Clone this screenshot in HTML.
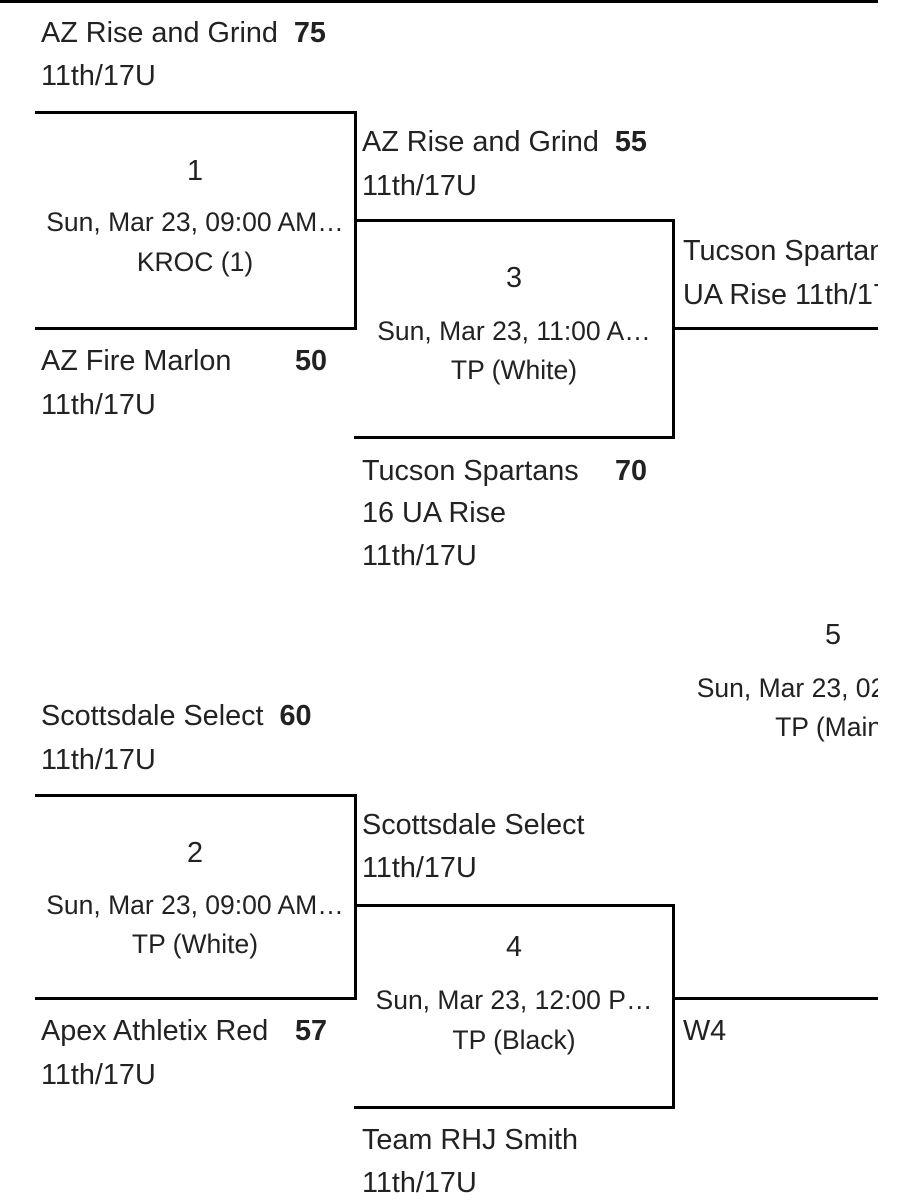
<!DOCTYPE html>
<html><head><style>
body{margin:0;width:913px;height:1200px;background:#fff;overflow:hidden}
#c{position:absolute;left:0;top:0;width:878px;height:1200px;overflow:hidden;font-family:"Liberation Sans",Roboto,sans-serif;font-size:28.8px;color:#222}
.t{position:absolute;white-space:nowrap;line-height:30px}
.l{position:absolute;background:#000}
.c{position:absolute;text-align:center;white-space:nowrap;line-height:30px}
.s{font-size:26.5px}
b{font-weight:bold}
</style></head><body><div id="c">
<div class="l" style="left:0;top:0;width:878px;height:3px"></div>
<div class="l" style="left:35px;top:111px;width:322px;height:3px"></div>
<div class="l" style="left:354px;top:111px;width:3px;height:219px"></div>
<div class="l" style="left:35px;top:327px;width:322px;height:3px"></div>
<div class="l" style="left:354px;top:219px;width:321px;height:3px"></div>
<div class="l" style="left:672px;top:219px;width:3px;height:220px"></div>
<div class="l" style="left:354px;top:436px;width:321px;height:3px"></div>
<div class="l" style="left:672px;top:327px;width:206px;height:3px"></div>
<div class="l" style="left:35px;top:794px;width:322px;height:3px"></div>
<div class="l" style="left:354px;top:794px;width:3px;height:206px"></div>
<div class="l" style="left:35px;top:997px;width:322px;height:3px"></div>
<div class="l" style="left:354px;top:904px;width:321px;height:3px"></div>
<div class="l" style="left:672px;top:904px;width:3px;height:205px"></div>
<div class="l" style="left:354px;top:1106px;width:321px;height:3px"></div>
<div class="l" style="left:672px;top:997px;width:206px;height:3px"></div>

<div class="t" style="left:41px;top:18px">AZ Rise and Grind&nbsp; <b>75</b></div>
<div class="t" style="left:41px;top:61px">11th/17U</div>
<div class="c" style="left:35px;width:320px;top:156px">1</div>
<div class="c s" style="left:35px;width:320px;top:207px">Sun, Mar 23, 09:00 AM…</div>
<div class="c s" style="left:35px;width:320px;top:247px">KROC (1)</div>
<div class="t" style="left:41px;top:346px">AZ Fire Marlon</div>
<div class="t" style="left:295px;top:346px"><b>50</b></div>
<div class="t" style="left:41px;top:390px">11th/17U</div>

<div class="t" style="left:362px;top:127px">AZ Rise and Grind&nbsp; <b>55</b></div>
<div class="t" style="left:362px;top:171px">11th/17U</div>
<div class="c" style="left:355px;width:318px;top:263px">3</div>
<div class="c s" style="left:355px;width:318px;top:316px">Sun, Mar 23, 11:00 A…</div>
<div class="c s" style="left:355px;width:318px;top:355px">TP (White)</div>
<div class="t" style="left:362px;top:456px">Tucson Spartans</div>
<div class="t" style="left:615px;top:456px"><b>70</b></div>
<div class="t" style="left:362px;top:498px">16 UA Rise</div>
<div class="t" style="left:362px;top:541px">11th/17U</div>

<div class="t" style="left:683px;top:236px">Tucson Spartans</div>
<div class="t" style="left:683px;top:280px">UA Rise 11th/17U</div>

<div class="c" style="left:673px;width:320px;top:620px">5</div>
<div class="c s" style="left:673px;width:320px;top:673px">Sun, Mar 23, 02:00 PM</div>
<div class="c s" style="left:673px;width:320px;top:712px">TP (Main)</div>

<div class="t" style="left:41px;top:701px">Scottsdale Select&nbsp; <b>60</b></div>
<div class="t" style="left:41px;top:745px">11th/17U</div>
<div class="c" style="left:35px;width:320px;top:838px">2</div>
<div class="c s" style="left:35px;width:320px;top:890px">Sun, Mar 23, 09:00 AM…</div>
<div class="c s" style="left:35px;width:320px;top:929px">TP (White)</div>
<div class="t" style="left:41px;top:1016px">Apex Athletix Red</div>
<div class="t" style="left:295px;top:1016px"><b>57</b></div>
<div class="t" style="left:41px;top:1060px">11th/17U</div>

<div class="t" style="left:362px;top:810px">Scottsdale Select</div>
<div class="t" style="left:362px;top:853px">11th/17U</div>
<div class="c" style="left:355px;width:318px;top:932px">4</div>
<div class="c s" style="left:355px;width:318px;top:985px">Sun, Mar 23, 12:00 P…</div>
<div class="c s" style="left:355px;width:318px;top:1025px">TP (Black)</div>
<div class="t" style="left:362px;top:1125px">Team RHJ Smith</div>
<div class="t" style="left:362px;top:1168px">11th/17U</div>

<div class="t" style="left:683px;top:1016px">W4</div>
</div></body></html>
